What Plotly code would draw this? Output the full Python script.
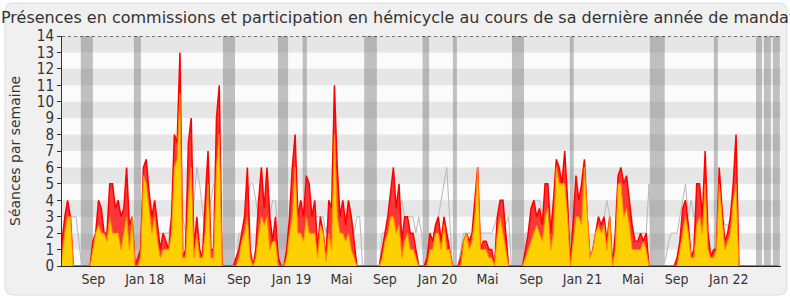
import plotly.graph_objects as go

# ---------------- data (weekly values, week index 0 = start of period) ----------------
weeks = list(range(256))

presences_total = [
    1.5, 3, 4, 3, 0, 0, 0, 0, 0, 0,            # 0-9
    0, 1.5, 2, 4, 3.5, 2, 2, 5, 5, 3.5,        # 10-19
    4, 3, 3.5, 6, 2.5, 3, 0, 0.5, 1, 6,        # 20-29
    6.5, 4.5, 3, 4, 2.5, 1, 2, 1.5, 1, 3,      # 30-39
    8, 7.5, 13, 0.5, 1, 7.5, 9, 1, 3, 1,       # 40-49
    0.5, 4, 7, 1, 1, 9, 11, 0, 0, 0,           # 50-59
    0, 0, 0.5, 1, 2, 3, 6, 1, 0, 1,            # 60-69
    4, 6, 3.5, 6, 3, 1.5, 3, 0.5, 0, 0,        # 70-79
    1, 3, 6, 8, 3, 4, 3, 5.5, 5, 3,            # 80-89
    4, 1, 3, 2, 0.5, 4, 3.5, 11, 6, 3,         # 90-99
    4, 2.5, 4, 3, 1.5, 0, 0, 0, 0, 0,          # 100-109
    0, 0, 0, 0, 1, 2, 3, 4.5, 6, 3.5,          # 110-119
    5, 1.5, 3, 3, 2, 2, 1, 0, 0, 0,            # 120-129
    0.5, 2, 1.5, 2.5, 3, 1.5, 3, 2, 1, 0,      # 130-139
    0, 0, 0.5, 1.5, 2, 1.5, 2, 4, 6, 1,        # 140-149
    1.5, 1.5, 1, 1, 0, 3, 4, 4, 2, 0,          # 150-159
    0, 0, 0, 0, 0, 1, 2, 3.5, 4, 3,            # 160-169
    3.5, 2.5, 5, 5, 2, 4, 6.5, 6, 5, 7,        # 170-179
    4, 0, 3, 5.5, 4, 5, 6.5, 3, 0.5, 1,        # 180-189
    2, 3, 2.5, 3, 1.5, 3, 0, 2, 5.5, 6,        # 190-199
    5, 5.5, 4, 2.5, 1.5, 1.5, 2, 1.5, 2, 0,    # 200-209
    0, 0, 0, 0, 0, 0, 0, 0, 0, 0.5,            # 210-219
    1.5, 3.5, 4, 2.5, 0.5, 1, 5, 5, 3, 7,      # 220-229
    2, 0.5, 1, 1, 6, 3.5, 1.5, 2, 3, 5,        # 230-239
    8, 0, 0, 0, 0, 0, 0, 0, 0, 0,              # 240-249
    0, 0, 0, 0, 0, 0,                          # 250-255
]

presences_commission = [
    0.5, 2, 3, 3, 0, 0, 0, 0, 0, 0,
    0, 1, 2, 2.5, 2, 2, 1.5, 3, 2, 2,
    2, 1, 2, 3, 1, 3, 0, 0, 0.5, 5.5,
    5, 3.5, 2, 3, 1.5, 0.5, 1, 1, 1, 2,
    6, 6.5, 10.5, 0.5, 0.5, 4, 6, 0.5, 2, 0.5,
    0.5, 2, 5, 0.5, 0.5, 6, 8, 0, 0, 0,
    0, 0, 0, 0.5, 1.5, 2, 3, 0.5, 0, 0.5,
    2, 3, 2.5, 3, 1, 1.5, 1.5, 0, 0, 0,
    0.5, 2, 3, 6, 2, 2, 1.5, 3, 2, 2,
    2, 0.5, 2.5, 2, 0.3, 2, 1, 8, 3, 2,
    2, 1.5, 2, 1, 0.5, 0, 0, 0, 0, 0,
    0, 0, 0, 0, 0.5, 1.5, 2, 3, 3, 2,
    2.5, 0.5, 1.5, 2, 1, 1, 0.5, 0, 0, 0,
    0, 1, 1, 2, 2, 1, 2.5, 1, 1, 0,
    0, 0, 0, 1.5, 2, 1, 1.5, 3, 6, 1,
    1, 1, 0.5, 0.5, 0, 2, 3, 2, 1, 0,
    0, 0, 0, 0, 0, 0.5, 1, 1.5, 2, 2.5,
    2, 1.5, 3, 3.5, 1, 2, 6, 5, 5, 5,
    3, 0, 1.5, 3, 3, 2.5, 6, 3, 0.5, 1,
    2, 2.5, 2, 2.5, 1, 3, 0, 1, 5, 5,
    3, 3.5, 2.5, 1, 1, 1, 1, 1.5, 1, 0,
    0, 0, 0, 0, 0, 0, 0, 0, 0, 0,
    1, 2, 3, 2, 0.5, 0.5, 2.5, 3, 2, 5,
    1, 0.5, 0.5, 1, 5, 3, 1, 1.5, 2, 4,
    5, 0, 0, 0, 0, 0, 0, 0, 0, 0,
    0, 0, 0, 0, 0, 0,
]

mediane_deputes = [
    0, 1.5, 3, 3, 3, 3, 1.5, 0, 0, 0,
    0, 1, 2, 3, 3, 2, 2, 3, 3, 3,
    3, 3, 3, 3, 2, 2, 0, 0, 2, 4,
    4, 4, 3, 3, 2, 2, 2, 2, 2, 3,
    5, 6, 6, 3, 2, 2, 3, 4, 6, 5,
    3.5, 2, 3, 4, 5, 5, 3, 0, 0, 0,
    0, 0, 0, 2, 2, 3, 4, 5, 5, 4,
    3, 3, 4, 4, 3, 4, 4, 2, 0, 0,
    1, 2, 3, 4, 3, 3, 3, 3, 3, 3,
    3, 3, 3, 3, 2, 3, 3, 4, 4, 3,
    3, 3, 3, 3, 2, 3, 3, 0, 0, 0,
    0, 0, 0, 0, 2, 2, 2, 3, 3, 3,
    3.5, 4, 3, 3, 3, 3, 2, 3, 2, 0,
    1, 2, 2, 2, 3, 4, 5, 6, 3, 0,
    0, 0, 1, 2, 2, 2, 2, 2, 2, 2,
    2, 2, 2, 2, 2.5, 3, 3, 3, 2.5, 3,
    0, 0, 0, 0, 0, 2, 2, 3, 4, 4,
    4, 3, 3, 3, 3, 3, 3, 3, 3, 3,
    2, 0, 1, 2, 3, 3, 3, 2, 0, 1,
    2, 3, 2.5, 3, 4, 3, 0, 1, 3, 3,
    3, 3, 3, 2, 2, 2, 2, 2, 2, 5,
    0, 0, 0, 0, 0, 0.5, 1.5, 2, 2, 2,
    3, 4, 5, 3, 4, 3, 3, 3, 3, 3,
    2, 1, 0, 1, 3, 3, 2.5, 2.5, 2, 3,
    3, 0, 0, 0, 0, 0, 0, 0, 0, 0,
    0, 0, 0, 0, 0, 0,
]

# parliamentary recesses (start week, end week)
vacances = [
    (6.7, 11.0), (25.6, 28.1), (57.3, 61.6), (76.9, 80.5), (85.7, 87.2),
    (107.6, 112.1), (128.4, 130.7), (139.2, 140.6), (160.2, 164.5),
    (180.8, 182.2), (209.3, 214.6), (232.1, 233.5), (247.1, 249.2),
    (249.9, 252.4), (253.1, 255.6),
]

tick_weeks = [11.2, 29.5, 47.3, 63.0, 81.7, 99.5, 115.0, 133.7, 151.5, 167.0,
              185.3, 203.3, 218.8, 237.4]
tick_labels = ["Sep", "Jan 18", "Mai", "Sep", "Jan 19", "Mai", "Sep", "Jan 20",
               "Mai", "Sep", "Jan 21", "Mai", "Sep", "Jan 22"]

title_text = ("Présences en commissions et participation en hémicycle "
              "au cours de sa dernière année de mandat")
y_title = "Séances par semaine"

# ---------------- figure ----------------
W, H = 790, 300
L, R, T, B = 62, 9, 36, 34
pw, ph = W - L - R, H - T - B

def px_x(px):
    return (px - L) / pw

def px_y(py):
    return (H - B - py) / ph

fig = go.Figure()

fig.add_trace(go.Scatter(x=weeks, y=mediane_deputes, mode="lines",
                         line=dict(color="#b8b8b8", width=1), hoverinfo="skip",
                         showlegend=False))
fig.add_trace(go.Scatter(x=weeks, y=presences_total, mode="lines", fill="tozeroy",
                         fillcolor="rgba(255,40,40,0.92)",
                         line=dict(color="#ff0000", width=1.5), hoverinfo="skip",
                         showlegend=False))
fig.add_trace(go.Scatter(x=weeks, y=presences_commission, mode="lines", fill="tozeroy",
                         fillcolor="#ffd000",
                         line=dict(color="#ff8c00", width=1), hoverinfo="skip",
                         showlegend=False))

shapes = []
# card background with rounded corners
x0, x1 = px_x(5), px_x(787)
y0, y1 = px_y(295), px_y(3)
rx, ry = 8 / pw, 8 / ph
path = (f"M {x0+rx},{y1} L {x1-rx},{y1} Q {x1},{y1} {x1},{y1-ry} "
        f"L {x1},{y0+ry} Q {x1},{y0} {x1-rx},{y0} L {x0+rx},{y0} "
        f"Q {x0},{y0} {x0},{y0+ry} L {x0},{y1-ry} Q {x0},{y1} {x0+rx},{y1} Z")
shapes.append(dict(type="path", xref="paper", yref="paper", path=path,
                   fillcolor="#f0f0f0", line=dict(color="#dcdcdc", width=1),
                   layer="below"))
# plot area background
shapes.append(dict(type="rect", xref="paper", yref="paper", x0=0, x1=1, y0=0, y1=1,
                   fillcolor="#fbfbfb", line=dict(width=0), layer="below"))
# alternating horizontal bands
for k in range(1, 14, 2):
    shapes.append(dict(type="rect", xref="paper", yref="y", x0=0, x1=1, y0=k, y1=k + 1,
                       fillcolor="#e6e6e6", line=dict(width=0), layer="below"))
# recess bands
for a, b in vacances:
    shapes.append(dict(type="rect", xref="x", yref="paper", x0=a, x1=b, y0=0, y1=1,
                       fillcolor="rgba(120,120,120,0.45)", line=dict(width=0),
                       layer="below"))
# dotted top line
shapes.append(dict(type="line", xref="paper", yref="y", x0=0, x1=1, y0=14, y1=14,
                   line=dict(color="#000000", width=1, dash="dot"), layer="above"))

fig.update_layout(
    width=W, height=H,
    margin=dict(l=L, r=R, t=T, b=B),
    paper_bgcolor="#ffffff",
    plot_bgcolor="rgba(0,0,0,0)",
    shapes=shapes,
    showlegend=False,
    font=dict(family="DejaVu Sans", color="#333333"),
    xaxis=dict(range=[0, 256], tickmode="array", tickvals=tick_weeks,
               ticktext=tick_labels, showgrid=False, zeroline=False,
               showline=True, linecolor="#222222", linewidth=1, ticks="",
               tickfont=dict(family="DejaVu Sans Condensed, Liberation Sans Narrow, DejaVu Sans",
                             size=14, color="#333333")),
    yaxis=dict(range=[0, 14], tickmode="linear", tick0=0, dtick=1, showgrid=False,
               zeroline=False, showline=True, linecolor="#333333", linewidth=1,
               ticks="outside", ticklen=4, tickcolor="#333333",
               tickfont=dict(family="DejaVu Sans Condensed, Liberation Sans Narrow, DejaVu Sans",
                             size=15, color="#333333")),
    annotations=[
        dict(text=title_text, xref="paper", yref="paper", x=px_x(398), y=px_y(17),
             xanchor="center", yanchor="middle", showarrow=False,
             font=dict(family="DejaVu Sans", size=16, color="#333333")),
        dict(text=y_title, xref="paper", yref="paper", x=px_x(15), y=0.5,
             xanchor="center", yanchor="middle", textangle=-90, showarrow=False,
             font=dict(family="DejaVu Sans", size=14, color="#333333")),
    ],
)

fig.write_html("out.html")
